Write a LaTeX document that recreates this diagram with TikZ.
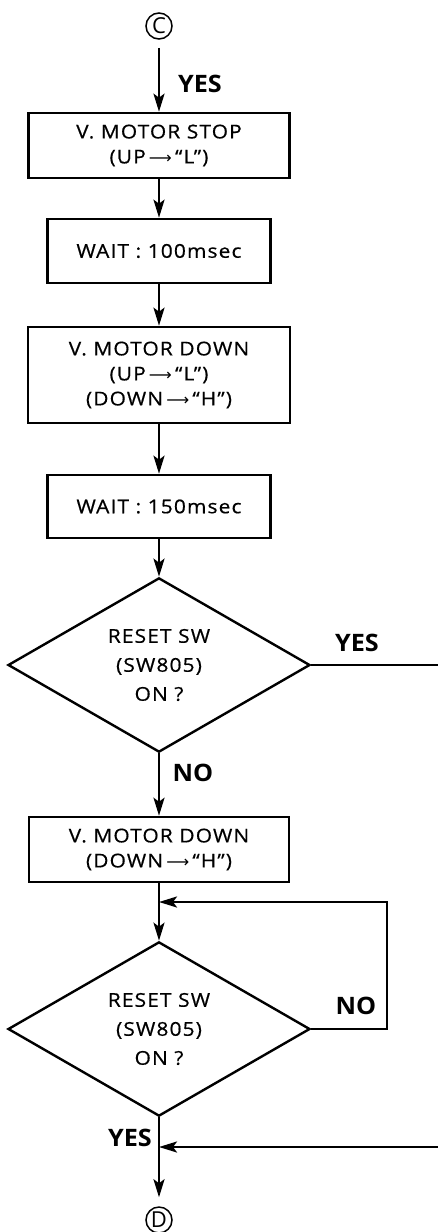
\documentclass[tikz,border=0pt]{standalone}
\usepackage{fontspec}
\setmainfont{Open Sans}[FakeStretch=1.1,LetterSpace=6,FakeBold=0.6]
\newfontfamily\labfont{Open Sans}[FakeStretch=1.05]
\newfontfamily\circfont{Open Sans}
\newfontfamily\arrfont{DejaVu Sans}
\newcommand{\rar}{\,{\arrfont\fontsize{16}{16}\selectfont ⟶}\,}
\usetikzlibrary{arrows.meta,shapes.geometric}
\begin{document}
\begin{tikzpicture}[x=1pt,y=-1pt,line width=2.5pt,
  arr/.style={-{Stealth[length=18pt,width=11pt,inset=4pt]}},
  txt/.style={font=\fontsize{19}{25}\selectfont,align=center},
  box/.style={draw,txt,inner sep=0pt,line width=2.6pt},
  dec/.style={draw,diamond,txt,inner sep=0pt,line width=2.4pt,minimum width=302pt,minimum height=170pt},
  lab/.style={font=\labfont\bfseries\fontsize{24}{24}\selectfont,inner sep=0pt},
  conn/.style={draw,circle,line width=1.5pt,inner sep=0pt,minimum size=26pt,font=\circfont\fontsize{22}{22}\selectfont}]
\useasboundingbox (0,0) rectangle (438,1232);
\node[conn] (C) at (159,26) {C};
\node[box,minimum width=261pt,minimum height=65pt] (b1) at (159,145.5) {V. MOTOR STOP\\(UP\rar“L”)};
\node[box,minimum width=223pt,minimum height=64pt] (b2) at (159,251) {WAIT : 100msec};
\node[box,minimum width=262pt,minimum height=96pt] (b3) at (159,375) {V. MOTOR DOWN\\(UP\rar“L”)\\(DOWN\rar“H”)};
\node[box,minimum width=223pt,minimum height=63pt] (b4) at (159,506.5) {WAIT : 150msec};
\node[dec] (d1) at (159,665) {RESET SW\\[4pt](SW805)\\[4pt]ON ?};
\node[box,minimum width=260pt,minimum height=65pt] (b5) at (159,849.5) {V. MOTOR DOWN\\(DOWN\rar“H”)};
\node[dec] (d2) at (159,1029) {RESET SW\\[4pt](SW805)\\[4pt]ON ?};
\node[conn] (D) at (159,1220) {D};
\coordinate (e1) at (438,665);
\coordinate (e2) at (438,1147);
\coordinate (j1) at (159,902);
\coordinate (j2) at (159,1147);
\coordinate (lr) at (387,902);
\draw[arr,shorten <=8pt] (C) -- (b1);
\draw[arr] (b1) -- (b2);
\draw[arr] (b2) -- (b3);
\draw[arr] (b3) -- (b4);
\draw[arr] (b4) -- (d1);
\draw (d1.east) -- (e1);
\draw[arr] (d1) -- (b5);
\draw[arr] (b5) -- (d2);
\draw[arr] (d2.east) -| (lr) -- (j1);
\draw[arr,shorten >=9pt] (d2) -- (D);
\draw[arr] (e2) -- (j2);
\node[lab] (y1) at (200,84) {YES};
\node[lab] (y2) at (357,643) {YES};
\node[lab] (n1) at (193,773) {NO};
\node[lab] (n2) at (356,1006) {NO};
\node[lab] (y3) at (130,1138) {YES};
\end{tikzpicture}
\end{document}
